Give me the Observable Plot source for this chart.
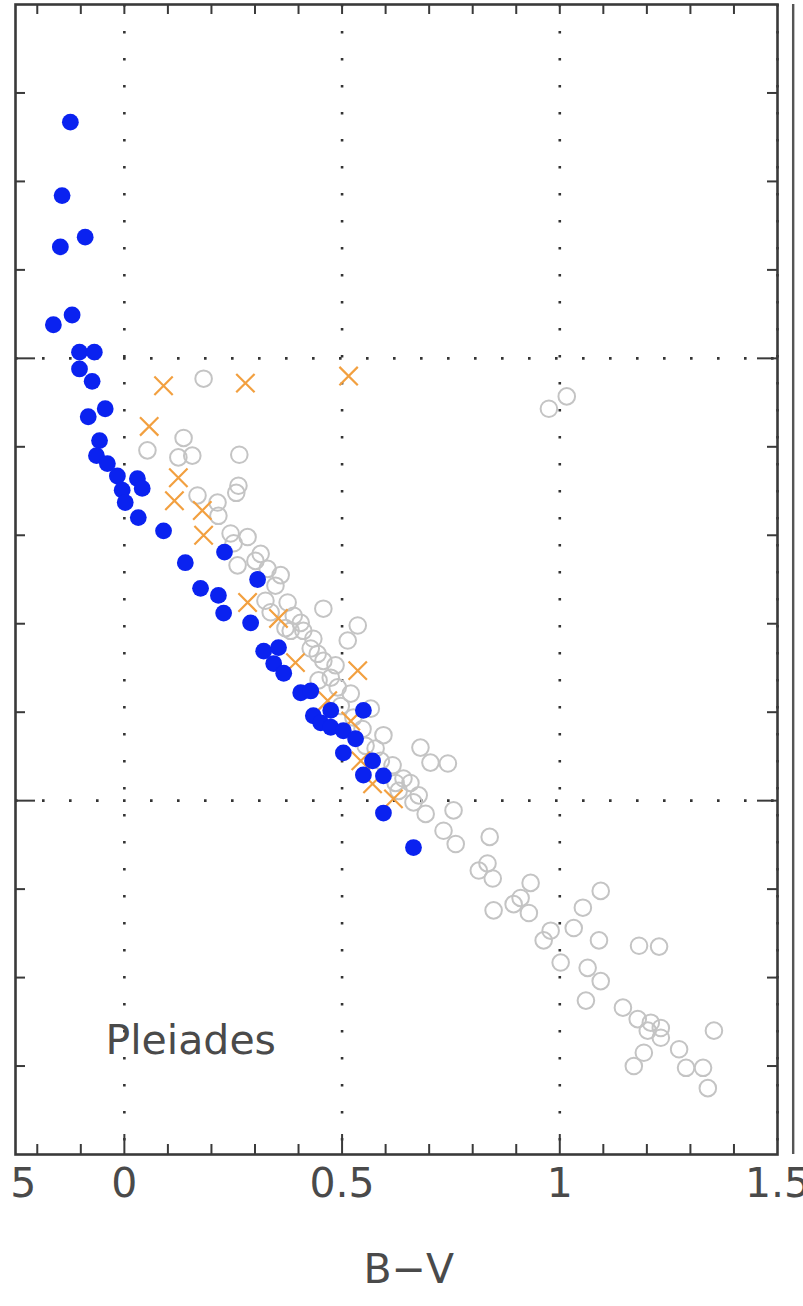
<!DOCTYPE html>
<html><head><meta charset="utf-8">
<script src="https://cdn.jsdelivr.net/npm/d3@7"></script>
<script src="https://cdn.jsdelivr.net/npm/@observablehq/plot@0.6"></script>
<style>body{margin:0;background:#fff;} #chart svg{display:block;}</style>
</head><body><div id="chart"></div>
<script>
// Pleiades colour–magnitude diagram: B−V vs absolute magnitude M_V
const blueBV = [-0.124,-0.143,-0.147,-0.090,-0.120,-0.163,-0.103,-0.069,-0.103,-0.074,-0.083,-0.044,-0.057,-0.064,-0.039,-0.016,0.030,0.041,-0.005,0.002,0.032,0.090,0.140,0.175,0.216,0.228,0.230,0.306,0.290,0.320,0.354,0.343,0.366,0.405,0.428,0.434,0.474,0.451,0.474,0.503,0.531,0.503,0.549,0.570,0.549,0.595,0.595,0.664];
const blueMV = [-2.67,-1.84,-1.26,-1.37,-0.49,-0.38,-0.07,-0.07,0.12,0.26,0.66,0.57,0.93,1.10,1.19,1.33,1.36,1.47,1.49,1.63,1.80,1.95,2.31,2.60,2.68,2.88,2.19,2.50,2.99,3.31,3.27,3.45,3.56,3.78,3.76,4.04,3.98,4.12,4.17,4.21,4.30,4.46,3.98,4.55,4.71,4.72,5.14,5.53];

const orangeBV = [0.090,0.278,0.515,0.057,0.124,0.115,0.179,0.182,0.283,0.354,0.393,0.536,0.467,0.520,0.543,0.570,0.618];
const orangeMV = [0.31,0.28,0.20,0.77,1.35,1.61,1.72,2.00,2.76,2.94,3.44,3.53,3.87,4.10,4.55,4.81,4.98];

const grayBV = [0.182,0.975,1.016,0.053,0.136,0.124,0.156,0.264,0.262,0.168,0.214,0.216,0.244,0.283,0.251,0.313,0.329,0.260,0.324,0.375,0.389,0.457,0.411,0.434,0.444,0.513,0.536,0.457,0.474,0.490,0.520,0.526,0.566,0.595,0.680,0.703,0.743,0.641,0.657,0.664,0.692,0.756,0.733,0.761,0.839,0.814,0.834,0.846,0.933,0.848,0.894,0.929,0.910,0.963,0.979,1.032,1.053,1.094,1.002,1.064,1.094,1.090,1.182,1.228,1.145,1.179,1.209,1.232,1.202,1.232,1.193,1.170,1.274,1.290,1.329,1.340,1.354,0.347,0.405,0.428,0.497,0.547,0.577,0.616,0.630,1.060,0.257,0.382,0.446,0.485,0.554,0.589,0.623,0.676,0.359,0.301,0.336,0.370];
const grayMV = [0.23,0.57,0.43,1.04,0.90,1.12,1.10,1.09,1.44,1.55,1.63,1.78,1.98,2.02,2.09,2.21,2.38,2.34,2.74,2.76,2.91,2.83,3.08,3.17,3.34,3.19,3.02,3.42,3.61,3.72,3.79,4.06,3.96,4.26,4.40,4.57,4.58,4.75,4.80,5.02,5.15,5.11,5.34,5.49,5.41,5.79,5.71,5.88,5.93,6.24,6.17,6.27,6.10,6.58,6.47,6.44,6.21,6.02,6.83,6.89,7.04,6.58,6.64,6.65,7.34,7.47,7.51,7.57,7.60,7.68,7.85,8.00,7.81,8.02,8.02,8.25,7.60,2.57,2.99,3.28,3.93,4.19,4.41,4.60,4.89,7.26,1.52,3.08,3.64,3.47,4.38,4.55,4.80,4.94,2.45,2.29,2.87,3.05];

// axis ticks and labels
const xMinorTicks = [-0.2,-0.1,0.1,0.2,0.3,0.4,0.6,0.7,0.8,0.9,1.1,1.2,1.3,1.4];
const xMajorTicks = [0,0.5,1];
const yMinorTicks = [-3,-2,-1,1,2,3,4,6,7,8];
const yMajorTicks = [0,5];
const xGrid = [0,0.5,1,1.5];
const yGrid = [0,5];
const xTickValues = [-0.232,0,0.5,1,1.5];
const xTickLabels = ["5","0","0.5","1","1.5"];
const xAxisTitle = [{text:"B−V", bv:0.653}];
const panelLabel = [{text:"Pleiades"}];
const neighbourPanelEdge = [1.536];

const toRows = (bv, mv) => bv.map((b,i)=>({bv:b, mv:mv[i]}));
const blue = toRows(blueBV, blueMV);
const orange = toRows(orangeBV, orangeMV);
const gray = toRows(grayBV, grayMV);
const xLabelRows = xTickValues.map((v,i)=>({v, label:xTickLabels[i]}));

const W = 803, H = 1306, mT = 4, mB = 152, mL = 15, mR = 26;
const innerH = H - mT - mB, innerW = W - mL - mR;
const axisColor = "#3a3a3a";
const textColor = "#4a4a4a";
const font = "DejaVu Sans, Liberation Sans, sans-serif";

const plot = Plot.plot({
  width: W, height: H,
  marginTop: mT, marginBottom: mB, marginLeft: mL, marginRight: mR,
  x: {domain: [-0.25, 1.5], axis: null},
  y: {domain: [-4, 9], reverse: true, axis: null},
  style: {background: "#fff", fontFamily: font, overflow: "visible"},
  marks: [
    // dotted grid
    Plot.ruleX(xGrid, {x: d=>d, stroke: "#333", strokeWidth: 2.6, strokeDasharray: "2.6 24.4"}),
    Plot.ruleY(yGrid, {y: d=>d, stroke: "#333", strokeWidth: 2.6, strokeDasharray: "2.6 24.4"}),
    // data
    Plot.dot(gray, {x: "bv", y: "mv", r: 8.3, stroke: "#c4c4c4", strokeWidth: 2, fill: "none"}),
    Plot.dot(orange, {x: "bv", y: "mv", r: 8.4, symbol: "times", stroke: "#f2a040", strokeWidth: 2.2}),
    Plot.dot(blue, {x: "bv", y: "mv", r: 8.4, fill: "#0a22f0", stroke: "none"}),
    // ticks (inward)
    Plot.tickX(xMinorTicks, {x: d=>d, insetTop: innerH - 10, stroke: axisColor, strokeWidth: 2}),
    Plot.tickX(xMajorTicks, {x: d=>d, insetTop: innerH - 20, stroke: axisColor, strokeWidth: 2}),
    Plot.tickX(xMinorTicks.concat(xMajorTicks), {x: d=>d, insetBottom: innerH - 10, stroke: axisColor, strokeWidth: 2}),
    Plot.tickY(yMinorTicks, {y: d=>d, insetRight: innerW - 10, stroke: axisColor, strokeWidth: 2}),
    Plot.tickY(yMajorTicks, {y: d=>d, insetRight: innerW - 20, stroke: axisColor, strokeWidth: 2}),
    Plot.tickY(yMinorTicks, {y: d=>d, insetLeft: innerW - 10, stroke: axisColor, strokeWidth: 2}),
    Plot.tickY(yMajorTicks, {y: d=>d, insetLeft: innerW - 20, stroke: axisColor, strokeWidth: 2}),
    Plot.frame({stroke: axisColor, strokeWidth: 2.6}),
    // edge of the neighbouring panel
    Plot.ruleX(neighbourPanelEdge, {x: d=>d, stroke: "#555", strokeWidth: 2.4, clip: false}),
    // tick labels
    Plot.text(xLabelRows, {x: "v", text: "label", frameAnchor: "bottom", dy: 42, fontSize: 41, fill: textColor, clip: false}),
    Plot.text(xAxisTitle, {x: "bv", text: "text", frameAnchor: "bottom", dy: 128, fontSize: 41, fill: textColor}),
    Plot.text(panelLabel, {text: "text", frameAnchor: "bottom-left", textAnchor: "start", dx: 90, dy: -101, fontSize: 41, fill: textColor})
  ]
});
document.getElementById("chart").appendChild(plot);
</script>
</body></html>
